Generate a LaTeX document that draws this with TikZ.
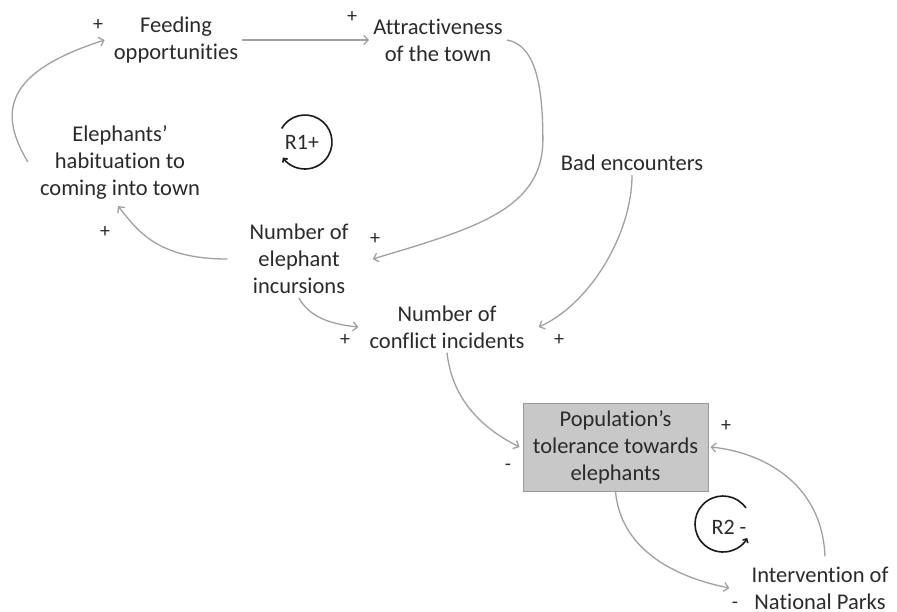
\documentclass[tikz,border=0pt]{standalone}
\usepackage{fontspec}
\setmainfont{Carlito}[Ligatures = NoCommon]
\usetikzlibrary{arrows.meta}
\definecolor{textgray}{HTML}{2A2A2A}
\definecolor{linkgray}{HTML}{A0A0A0}
\definecolor{loopgray}{HTML}{1A1A1A}
\definecolor{boxgray}{HTML}{C8C8C8}
\definecolor{edgegray}{HTML}{9A9A9A}

\begin{document}
\begin{tikzpicture}[x = 1pt, y = -1pt]
	\tikzstyle{varStyle} = [align = center, inner sep = 4pt, text = textgray, font = \fontsize{22.5}{27}\selectfont]
	\tikzstyle{boxStyle} = [varStyle, fill = boxgray, draw = edgegray, line width = 1pt, minimum width = 185pt, minimum height = 88pt]
	\tikzstyle{signStyle} = [inner sep = 0pt, text = textgray, font = \fontsize{20}{20}\selectfont]
	\tikzstyle{loopLabelStyle} = [inner sep = 0pt, text = textgray, font = \fontsize{22}{22}\selectfont]
	\tikzstyle{linkStyle} = [draw = linkgray, line width = 1.3pt, -{Straight Barb[length = 4.5pt, width = 9pt]}]
	\tikzstyle{loopStyle} = [draw = loopgray, line width = 1.6pt, -{Straight Barb[length = 3pt, width = 6pt]}]
	\useasboundingbox (0,0) rectangle (897,611);
	\node[varStyle] (feeding) at (176,40) {Feeding\\opportunities};
	\node[varStyle] (attract) at (438,40) {Attractiveness\\of the town};
	\node[varStyle] (habit) at (120,162) {Elephants'\\habituation to\\coming into town};
	\node[varStyle] (bad) at (632,163) {Bad encounters};
	\node[varStyle] (incurs) at (299,259) {Number of\\elephant\\incursions};
	\node[varStyle] (conflict) at (447,327) {Number of\\conflict incidents};
	\node[boxStyle] (tolerance) at (615.5,447) {Population's\\tolerance towards\\elephants};
	\node[varStyle] (intervention) at (820,588) {Intervention of\\National Parks};
	\node[signStyle] (sign1) at (98,25) {+};
	\node[signStyle] (sign2) at (352,17) {+};
	\node[signStyle] (sign3) at (105,232) {+};
	\node[signStyle] (sign4) at (375,239) {+};
	\node[signStyle] (sign5) at (345,340) {+};
	\node[signStyle] (sign6) at (559,340) {+};
	\node[signStyle] (sign7) at (726,426) {+};
	\node[signStyle] (sign8) at (508,467) {-};
	\node[signStyle] (sign9) at (735,605) {-};
	\node[loopLabelStyle] (r1) at (302,142) {R1+};
	\node[loopLabelStyle] (r2) at (729,527) {R2 -};
	\draw[linkStyle] (feeding.east) -- (attract.west);
	\draw[linkStyle] (attract.east) .. controls +(30,5) and +(0,-50) .. ++(36,100) .. controls +(0,70) and +(100,-30) .. ([xshift = 20pt]incurs.east);
	\draw[linkStyle] ([xshift = -18pt]incurs.west) .. controls +(-70,0) and +(20,25) .. ([xshift = -2pt, yshift = -3pt]habit.south);
	\draw[linkStyle] ([xshift = -8pt]habit.west) .. controls +(-30,-50) and +(-100,32) .. ([xshift = -5pt]feeding.west);
	\draw[linkStyle] (bad.south) .. controls +(0,60) and +(50,-22) .. ([xshift = 10pt]conflict.east);
	\draw[linkStyle] (incurs.south) .. controls +(10,18) and +(-30,-3) .. ([xshift = -7pt]conflict.west);
	\draw[linkStyle] (conflict.south) .. controls +(5,45) and +(-40,-20) .. ([xshift = -3pt]tolerance.west);
	\draw[linkStyle] (tolerance.south) .. controls +(5,55) and +(-60,-12) .. ([xshift = -18pt]intervention.west);
	\draw[linkStyle] ([xshift = 5pt, yshift = 6pt]intervention.north) .. controls +(-3,-75) and +(50,5) .. ([xshift = 2pt]tolerance.east);
	\draw[loopStyle] (305,142) ++(210:27) arc[start angle = 210, end angle = 505, radius = 27];
	\draw[loopStyle] (723,524) ++(325:28) arc[start angle = 325, end angle = 30, radius = 28];
\end{tikzpicture}
\end{document}
